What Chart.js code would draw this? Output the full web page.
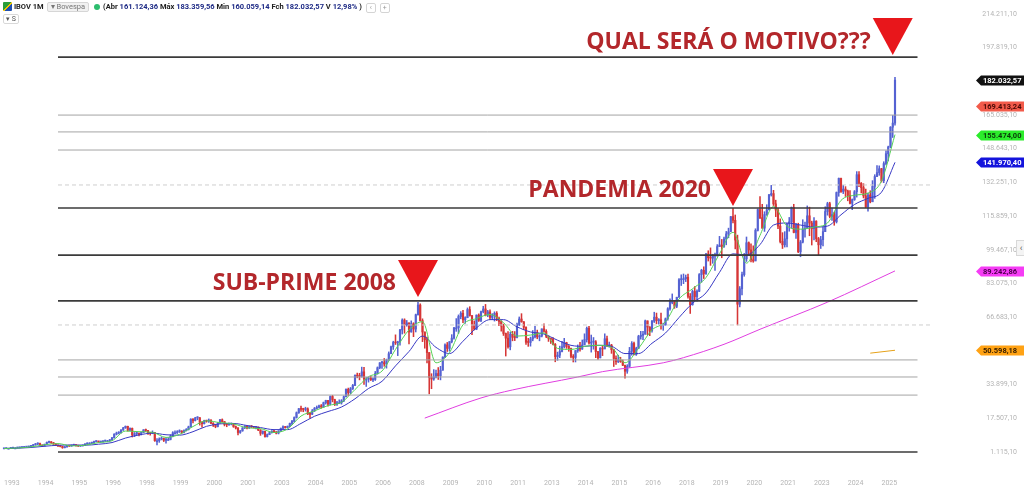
<!DOCTYPE html>
<html>
<head>
<meta charset="utf-8">
<title>IBOV 1M</title>
<script src="https://cdn.jsdelivr.net/npm/chart.js@4.4.1/dist/chart.umd.min.js"></script>
<style>
  html, body { margin: 0; padding: 0; background: #fff; }
  #wrap { position: relative; width: 1024px; height: 488px; overflow: hidden; }
  #ibov { position: absolute; left: 0; top: 0; }
  .hdr { position: absolute; left: 3px; top: 2px; font-family: Roboto, "Liberation Sans", sans-serif; font-size: 7.5px; color: #222; white-space: nowrap; line-height: 10px; }
  .hdr .flag { display: inline-block; width: 9px; height: 9px; vertical-align: -2px; background: linear-gradient(135deg, #2a9d3a 0 45%, #f2c200 45% 60%, #1f4fb0 60%); border-radius: 1px; }
  .hdr b { font-weight: 700; }
  .hdr .badge { display: inline-block; border: 1px solid #d6d6d6; background: #f1f1f1; color: #777; border-radius: 2px; padding: 0 3px; line-height: 8px; margin-left: 3px; }
  .hdr .dot { display: inline-block; width: 6px; height: 6px; border-radius: 50%; background: #2dbd6e; margin: 0 3px 0 5px; vertical-align: -1px; }
  .hdr .n { color: #1d2a85; font-weight: 700; }
  .hdr .btn { display: inline-block; width: 8px; height: 8px; border: 1px solid #d4d4d4; border-radius: 2px; color: #999; font-size: 7px; line-height: 8px; text-align: center; margin-left: 4px; vertical-align: -1px; }
  .hdr2 { position: absolute; left: 3px; top: 14px; font-family: Roboto, sans-serif; font-size: 7px; color: #555; border: 1px solid #d8d8d8; border-radius: 2px; padding: 0 2px; line-height: 8px; }
  .side { position: absolute; left: 1016px; top: 240px; width: 8px; height: 14px; border: 1px solid #d8d8d8; border-right: none; background: #f4f4f4; color: #555; font: 9px Roboto, sans-serif; line-height: 14px; text-align: center; }
</style>
</head>
<body>
<div id="wrap">
  <canvas id="ibov" width="1024" height="488"></canvas>
  <div class="hdr"><span class="flag"></span> <b>IBOV 1M</b><span class="badge">&#9662; Bovespa</span><span class="dot"></span><b>(Abr</b> <span class="n">161.124,36</span> <b>Máx</b> <span class="n">183.359,56</span> <b>Min</b> <span class="n">160.059,14</span> <b>Fch</b> <span class="n">182.032,57</span> <b>V</b> <span class="n">12,98%</span> <b>)</b><span class="btn">&#8249;</span><span class="btn">+</span></div>
  <div class="hdr2">&#9662; S</div>
  <div class="side">&#8249;</div>
</div>
<script>
// IBOV monthly candles, Jan 1993 .. Jan 2026 (values in thousands of points)
var opens = [
  2.7,2.8,2.9,2.9,3.0,3.1,3.1,3.2,3.3,3.4,3.5,3.6,            // 1993
  3.8,4.2,4.6,5.0,5.2,4.4,4.0,4.8,5.8,6.0,5.6,5.0,            // 1994
  4.4,4.0,3.8,3.2,3.6,4.2,4.0,4.4,4.6,4.2,4.0,4.1,            // 1995
  4.3,5.0,5.4,5.4,5.7,6.2,6.3,6.0,6.1,6.4,6.6,6.6,            // 1996
  7.0,8.0,9.8,10.3,10.5,11.8,12.9,13.6,11.7,12.6,9.4,10.0,    // 1997
  10.2,9.6,10.6,11.9,11.6,10.3,10.2,10.6,6.6,6.6,7.4,7.7,     // 1998
  6.8,7.2,7.2,8.7,10.5,10.5,11.0,11.3,10.6,11.5,12.0,13.3,    // 1999
  17.1,16.4,17.7,17.8,15.5,14.9,16.4,16.1,16.7,15.1,14.3,13.5, // 2000
  15.3,16.8,15.9,14.5,14.4,14.7,14.9,13.5,12.8,10.6,11.4,12.8, // 2001
  13.6,12.8,13.5,13.3,13.1,13.2,11.8,10.2,11.2,8.6,9.6,10.5,  // 2002
  11.3,10.9,10.3,11.3,12.6,13.4,13.0,13.6,15.0,16.0,17.9,20.2, // 2003
  22.2,21.9,21.8,22.1,19.6,19.5,21.1,22.3,22.8,23.6,23.0,25.1, // 2004
  26.2,24.4,28.1,26.6,24.4,25.1,25.1,26.0,28.0,31.6,30.0,31.9, // 2005
  33.5,38.4,38.0,37.9,40.1,36.6,36.6,37.1,36.2,36.4,39.3,42.1, // 2006
  44.5,44.6,43.9,45.8,48.9,52.3,54.4,54.2,54.6,60.5,65.3,63.0, // 2007
  63.9,59.5,63.5,60.9,67.9,72.6,65.0,59.5,55.7,49.5,37.3,36.6, // 2008
  37.6,39.3,38.2,40.9,47.3,53.2,51.5,54.8,56.5,61.5,61.5,67.0, // 2009
  68.6,65.4,66.5,70.4,67.5,63.0,60.9,67.7,65.1,69.4,70.7,67.7, // 2010
  69.3,66.6,67.4,68.6,66.1,64.6,62.4,58.8,56.5,52.3,58.4,56.9, // 2011
  56.8,63.1,65.8,64.5,61.8,54.5,54.4,56.1,57.1,59.2,57.1,57.5, // 2012
  61.0,59.8,57.4,56.4,55.9,53.5,47.5,48.2,50.0,52.3,54.3,52.5, // 2013
  51.5,47.6,47.1,50.4,51.6,51.2,53.2,55.8,61.3,54.1,54.6,54.7, // 2014
  50.0,46.9,51.6,51.2,56.2,52.8,53.1,50.9,46.6,45.1,45.9,45.1, // 2015
  43.3,40.4,42.8,50.1,53.9,48.5,51.5,57.3,57.9,58.4,64.9,61.9, // 2016
  60.2,64.7,66.7,65.0,65.4,62.7,62.9,65.9,70.8,74.3,74.3,72.0, // 2017
  76.4,84.9,85.4,85.4,86.1,76.8,72.8,79.2,76.7,79.3,87.4,89.5, // 2018
  87.9,97.4,95.6,95.4,96.4,97.0,101.0,101.8,101.1,104.7,107.2,108.2, // 2019
  115.6,113.8,104.2,73.0,80.5,87.4,95.1,102.9,99.4,94.6,94.0,108.9,  // 2020
  119.0,115.1,110.0,116.6,118.9,126.2,126.8,121.8,118.8,111.0,103.5,101.9, // 2021
  104.8,112.1,113.1,120.0,107.9,111.4,98.5,103.2,109.5,110.0,116.0,112.5,  // 2022
  109.7,113.4,104.9,101.9,104.4,108.3,118.1,121.9,115.7,116.6,113.1,127.3, // 2023
  134.2,127.8,129.0,128.1,125.9,122.1,123.9,127.7,136.0,131.8,129.7,125.7, // 2024
  120.3,126.1,122.8,130.3,135.1,137.0,138.9,133.1,141.4,146.2,149.5,159.1, // 2025
  161.1                                                                     // 2026
];
var highs = [
  2.9,3.0,3.0,3.1,3.2,3.2,3.3,3.4,3.5,3.6,3.7,3.9,
  4.4,4.8,5.3,5.6,5.4,4.6,5.0,6.0,6.4,6.2,5.8,5.2,
  4.6,4.2,3.9,3.8,4.4,4.3,4.6,4.9,4.7,4.3,4.3,4.5,
  5.2,5.6,5.7,5.9,6.4,6.6,6.4,6.3,6.6,6.9,6.8,7.2,
  8.2,10.0,10.8,11.0,12.0,13.1,13.8,13.7,12.9,12.8,10.6,10.7,
  10.4,10.8,12.0,12.3,11.7,10.5,11.4,10.7,7.6,8.0,8.4,7.9,
  8.0,8.0,9.5,11.0,11.4,11.5,11.9,11.5,11.9,12.5,13.7,17.3,
  17.4,18.0,18.3,17.9,15.9,16.6,16.6,17.2,16.8,15.4,14.6,15.4,
  17.0,17.2,16.0,15.0,15.3,15.2,15.0,13.8,13.0,11.6,13.0,13.9,
  13.8,13.8,14.0,13.6,13.5,13.3,12.0,11.4,11.3,9.9,11.0,11.5,
  11.6,11.1,11.5,12.8,13.8,13.6,13.8,15.2,16.5,18.2,20.6,22.3,
  23.4,22.4,22.9,22.6,20.4,21.8,22.8,23.5,23.9,24.2,25.4,26.3,
  26.3,28.4,28.7,26.8,25.8,26.5,26.6,28.4,31.9,32.2,32.5,34.0,
  38.6,39.5,39.4,42.4,42.3,37.4,37.6,38.0,37.2,40.3,42.5,44.6,
  45.2,46.6,46.3,49.8,52.6,55.0,58.1,55.0,60.8,65.9,65.9,65.1,
  64.0,64.9,64.0,68.2,73.9,73.2,65.9,59.5,57.0,49.5,39.2,41.2,
  41.0,42.2,42.8,47.4,53.7,54.4,54.8,58.2,61.7,66.0,67.8,69.4,
  70.0,66.9,71.2,71.8,67.5,64.9,67.8,68.3,69.7,72.0,72.9,70.0,
  70.3,68.4,69.3,69.4,66.7,65.0,63.3,59.0,59.7,59.4,59.8,59.7,
  63.8,66.8,68.4,64.5,62.0,56.4,57.0,60.2,62.2,60.4,58.2,61.0,
  63.5,60.6,57.6,56.6,56.8,53.9,49.7,52.6,54.9,56.4,54.5,52.9,
  51.7,48.5,50.5,53.2,54.4,55.6,58.6,61.9,62.3,58.0,56.8,55.3,
  50.0,51.9,52.7,58.6,57.5,54.6,53.5,51.0,47.9,48.2,47.2,45.9,
  43.4,43.6,52.0,54.8,54.6,52.1,57.9,59.8,59.8,65.3,64.9,62.1,
  65.2,69.1,68.7,66.0,68.7,63.8,66.3,71.3,75.6,78.0,74.3,76.4,
  85.5,87.3,87.7,87.2,87.7,78.2,79.9,81.6,80.0,87.9,90.0,91.2,
  97.7,99.0,100.4,97.3,97.9,102.0,106.0,104.5,105.6,108.4,110.0,115.7,
  119.6,116.4,106.6,81.6,88.6,97.7,105.7,103.3,102.4,101.4,109.7,119.4,
  125.3,121.6,118.0,121.4,126.4,130.8,128.4,123.6,119.6,114.5,107.8,108.3,
  112.4,115.2,120.3,121.6,112.4,112.4,104.0,114.1,113.0,120.8,120.2,113.4,
  115.1,113.6,105.5,106.0,110.6,120.4,122.6,122.6,119.8,117.8,127.6,134.4,
  134.4,130.8,130.2,128.5,128.3,124.2,128.3,137.5,137.5,132.2,131.6,129.0,
  127.1,128.2,133.1,136.0,140.4,140.3,139.1,142.3,147.6,149.9,159.4,164.8,
  183.4
];
var lows = [
  2.6,2.7,2.8,2.8,2.9,3.0,3.0,3.1,3.2,3.3,3.4,3.5,
  3.6,4.0,4.4,4.7,4.2,3.7,3.9,4.6,5.5,5.3,4.8,4.2,
  3.8,3.6,2.9,3.1,3.5,3.8,3.9,4.3,4.0,3.8,3.8,4.0,
  4.2,4.8,5.1,5.2,5.6,6.0,5.8,5.8,5.9,6.2,6.3,6.5,
  6.9,7.9,9.4,9.9,10.3,11.6,12.6,11.3,11.5,8.4,8.6,9.5,
  8.9,9.4,10.5,11.1,9.7,9.3,10.0,6.3,4.6,5.8,7.0,6.2,
  5.4,6.8,7.0,8.5,10.0,10.1,10.6,10.2,10.4,11.3,11.8,13.2,
  15.3,16.2,16.8,14.2,13.2,14.7,15.6,15.5,14.9,13.5,12.9,13.3,
  15.0,15.6,13.8,13.4,14.0,14.3,13.1,12.3,9.4,10.2,11.2,12.5,
  12.4,12.6,13.0,12.8,12.4,11.5,9.2,9.8,8.3,8.4,9.5,10.3,
  10.5,9.9,9.9,11.1,12.3,12.7,12.7,13.4,14.4,15.6,17.6,19.9,
  20.9,20.7,21.0,19.3,17.6,19.3,20.8,22.0,22.6,22.4,22.8,24.4,
  23.4,24.0,25.5,23.7,23.8,24.7,24.4,25.6,27.9,28.4,29.5,31.5,
  33.4,37.2,36.2,37.5,34.0,33.0,35.1,35.9,35.3,35.9,39.0,41.6,
  41.8,42.8,41.9,45.7,48.9,51.0,53.4,48.0,53.1,58.5,58.9,62.3,
  53.7,59.4,57.2,59.5,67.7,64.8,54.8,51.6,44.4,29.4,31.9,36.0,
  37.1,36.4,36.2,40.9,47.0,50.0,50.2,54.2,56.0,59.8,58.8,65.9,
  64.0,63.7,66.4,67.2,58.2,60.5,60.6,64.6,64.5,68.8,67.3,66.9,
  65.6,65.5,64.8,65.0,62.6,59.9,57.8,47.8,51.6,50.8,55.2,55.3,
  56.6,62.6,64.2,60.6,53.4,52.5,52.6,55.2,56.6,56.2,55.2,57.1,
  59.4,56.7,54.9,53.9,53.2,45.0,45.7,47.0,49.8,51.7,51.5,50.1,
  46.9,44.9,44.9,49.6,50.2,51.0,53.4,54.6,53.6,49.7,51.1,47.0,
  46.1,46.9,48.0,51.4,52.4,52.1,49.1,42.7,43.7,44.6,44.7,43.1,
  37.0,39.4,42.2,48.2,48.3,48.1,51.5,56.0,55.8,58.4,58.1,57.7,
  59.4,64.1,63.5,63.3,60.8,60.3,62.8,65.2,70.1,73.2,71.0,71.3,
  76.4,82.1,83.0,84.0,76.0,68.5,72.5,75.0,74.5,79.1,83.7,85.5,
  87.5,94.0,91.9,92.9,89.4,96.3,101.0,95.6,100.6,101.9,105.3,108.7,
  112.5,99.9,62.9,71.7,77.5,86.6,93.8,97.0,93.6,93.4,94.3,108.6,
  114.6,109.9,108.4,116.2,118.9,125.6,121.0,115.6,109.8,102.8,100.1,100.8,
  100.9,108.5,110.0,107.7,105.0,98.1,96.1,102.8,105.6,110.0,106.3,101.8,
  104.3,103.4,97.0,100.1,101.3,108.3,116.3,115.0,113.8,111.4,112.5,125.5,
  127.4,126.8,125.4,123.3,121.8,119.0,123.5,125.1,130.2,127.1,124.7,120.0,
  118.2,122.3,122.9,124.5,135.0,135.7,132.4,132.1,140.7,142.7,149.1,154.1,
  160.1
];
var closes = [
  2.8,2.9,2.9,3.0,3.1,3.1,3.2,3.3,3.4,3.5,3.6,3.8,
  4.2,4.6,5.0,5.2,4.4,4.0,4.8,5.8,6.0,5.6,5.0,4.4,
  4.0,3.8,3.2,3.6,4.2,4.0,4.4,4.6,4.2,4.0,4.1,4.3,
  5.0,5.4,5.4,5.7,6.2,6.3,6.0,6.1,6.4,6.6,6.6,7.0,
  8.0,9.8,10.3,10.5,11.8,12.9,13.6,11.7,12.6,9.4,10.0,10.2,
  9.6,10.6,11.9,11.6,10.3,10.2,10.6,6.6,6.6,7.4,7.7,6.8,
  7.2,7.2,8.7,10.5,10.5,11.0,11.3,10.6,11.5,12.0,13.3,17.1,
  16.4,17.7,17.8,15.5,14.9,16.4,16.1,16.7,15.1,14.3,13.5,15.3,
  16.8,15.9,14.5,14.4,14.7,14.9,13.5,12.8,10.6,11.4,12.8,13.6,
  12.8,13.5,13.3,13.1,13.2,11.8,10.2,11.2,8.6,9.6,10.5,11.3,
  10.9,10.3,11.3,12.6,13.4,13.0,13.6,15.0,16.0,17.9,20.2,22.2,
  21.9,21.8,22.1,19.6,19.5,21.1,22.3,22.8,23.6,23.0,25.1,26.2,
  24.4,28.1,26.6,24.4,25.1,25.1,26.0,28.0,31.6,30.0,31.9,33.5,
  38.4,38.0,37.9,40.1,36.6,36.6,37.1,36.2,36.4,39.3,42.1,44.5,
  44.6,43.9,45.8,48.9,52.3,54.4,54.2,54.6,60.5,65.3,63.0,63.9,
  59.5,63.5,60.9,67.9,72.6,65.0,59.5,55.7,49.5,37.3,36.6,37.6,
  39.3,38.2,40.9,47.3,53.2,51.5,54.8,56.5,61.5,61.5,67.0,68.6,
  65.4,66.5,70.4,67.5,63.0,60.9,67.7,65.1,69.4,70.7,67.7,69.3,
  66.6,67.4,68.6,66.1,64.6,62.4,58.8,56.5,52.3,58.4,56.9,56.8,
  63.1,65.8,64.5,61.8,54.5,54.4,56.1,57.1,59.2,57.1,57.5,61.0,
  59.8,57.4,56.4,55.9,53.5,47.5,48.2,50.0,52.3,54.3,52.5,51.5,
  47.6,47.1,50.4,51.6,51.2,53.2,55.8,61.3,54.1,54.6,54.7,50.0,
  46.9,51.6,51.2,56.2,52.8,53.1,50.9,46.6,45.1,45.9,45.1,43.3,
  40.4,42.8,50.1,53.9,48.5,51.5,57.3,57.9,58.4,64.9,61.9,60.2,
  64.7,66.7,65.0,65.4,62.7,62.9,65.9,70.8,74.3,74.3,72.0,76.4,
  84.9,85.4,85.4,86.1,76.8,72.8,79.2,76.7,79.3,87.4,89.5,87.9,
  97.4,95.6,95.4,96.4,97.0,101.0,101.8,101.1,104.7,107.2,108.2,115.6,
  113.8,104.2,73.0,80.5,87.4,95.1,102.9,99.4,94.6,94.0,108.9,119.0,
  115.1,110.0,116.6,118.9,126.2,126.8,121.8,118.8,111.0,103.5,101.9,104.8,
  112.1,113.1,120.0,107.9,111.4,98.5,103.2,109.5,110.0,116.0,112.5,109.7,
  113.4,104.9,101.9,104.4,108.3,118.1,121.9,115.7,116.6,113.1,127.3,134.2,
  127.8,129.0,128.1,125.9,122.1,123.9,127.7,136.0,131.8,129.7,125.7,120.3,
  126.1,122.8,130.3,135.1,137.0,138.9,133.1,141.4,146.2,149.5,159.1,161.1,
  182.0
];

// moving averages, one value every 6 months (Jan / Jul)
var maFast = [
  2.8,3.05, 3.6,4.6, 5.2,4.1, 4.4,5.7, 6.6,11.3, 11.0,10.7, 8.2,9.7, 13.5,16.3,
  15.4,14.8, 12.9,12.5, 10.6,12.3, 18.6,21.1, 23.7,25.3, 31.5,37.7, 40.5,51.0,
  60.5,64.5, 44.5,49.5, 63.0,66.0, 68.0,64.0, 57.5,58.0, 59.0,51.5, 51.0,52.5,
  53.0,52.0, 44.5,51.5, 60.5,64.5, 75.5,80.5, 86.0,97.5, 108.0,93.0, 106.5,120.5,
  111.0,109.5, 110.5,112.5, 123.5,126.0, 127.0,133.0, 155.5
];
var maSlow = [
  2.8,2.95, 3.3,3.9, 4.4,4.5, 4.4,4.9, 5.7,7.9, 9.4,10.3, 9.5,9.3, 11.0,13.6,
  14.8,15.0, 14.0,13.0, 12.0,12.0, 15.0,18.5, 20.8,23.0, 27.0,32.0, 35.5,43.0,
  50.0,57.5, 52.0,49.0, 55.0,61.5, 65.5,65.5, 62.0,59.5, 58.5,55.5, 53.0,52.5,
  53.0,52.5, 49.0,49.0, 54.0,59.0, 66.5,73.5, 78.5,88.5, 97.5,97.0, 102.0,111.5,
  112.5,111.5, 110.5,111.0, 116.5,121.5, 124.5,127.5, 142.0
];
var maLongMonths = [187, 212, 226, 255, 266, 293, 302, 320, 336, 366, 396];
var maLong = [17.6, 27.4, 31.3, 37.6, 40.2, 44.5, 47.0, 53.5, 60.8, 74.0, 89.2];
var maLongestMonths = [385, 396];
var maLongest = [49.2, 50.6];

// horizontal levels (thousands)
var solidLevels = [193.2, 119.8, 96.9, 74.6, 1.115];
var thinLevels = [165.0, 156.8, 148.0, 45.9, 37.6, 28.8];
var dashedLevels = [131.0, 62.9];

// axis ticks
var yTicks = [1115.10, 17507.10, 33899.10, 50291.10, 66683.10, 83075.10, 99467.10,
  115859.10, 132251.10, 148643.10, 165035.10, 181427.10, 197819.10, 214211.10];
var xTickMonths = [0, 15, 30, 45, 60, 75, 90, 105, 120, 135, 150, 165, 180, 195,
  210, 225, 240, 255, 270, 285, 300, 315, 330, 345, 360, 375, 390];
var xTickLabels = ['1993', '1994', '1995', '1996', '1998', '1999', '2000', '2001', '2003',
  '2004', '2005', '2006', '2008', '2009', '2010', '2011', '2013', '2014', '2015', '2016',
  '2018', '2019', '2020', '2021', '2023', '2024', '2025'];

// value tags on the right axis
var tagValues = [182032.57, 169413.24, 155474.00, 141970.40, 89242.86, 50598.18];
var tagLabels = ['182.032,57', '169.413,24', '155.474,00', '141.970,40', '89.242,86', '50.598,18'];
var tagFill = ['#111111', '#f25a4a', '#2bec2b', '#1414dc', '#f53cf5', '#ffa214'];
var tagInk = ['#ffffff', '#4a0a06', '#0a3a0a', '#ffffff', '#4a004a', '#3a2000'];

// callouts: month of the marker tip, value of the tip, text
var calloutMonths = [184, 324, 395];
var calloutValues = [76.5, 120.8, 194.2];
var calloutTexts = ['SUB-PRIME 2008', 'PANDEMIA 2020', 'QUAL SERÁ O MOTIVO???'];
var calloutLift = [7, 9, 6];

var UP = '#5562d2';
var DOWN = '#d63636';

function fmtBR(v) {
  var s = v.toFixed(2).split('.');
  return s[0].replace(/\B(?=(\d{3})+(?!\d))/g, '.') + ',' + s[1];
}

function levelLine(v, x0, x1) {
  return [{ x: x0, y: v * 1000 }, { x: x1, y: v * 1000 }];
}

var candleColors = closes.map(function (c, i) { return c >= opens[i] ? UP : DOWN; });
var wickData = highs.map(function (h, i) { return { x: i, y: [lows[i] * 1000, h * 1000] }; });
var bodyData = closes.map(function (c, i) { return { x: i, y: [opens[i] * 1000, c * 1000] }; });

var datasets = [];

solidLevels.forEach(function (v) {
  datasets.push({ type: 'line', data: levelLine(v, 24, 406), borderColor: '#3b3b3b', borderWidth: 1.6, pointRadius: 0, order: 0 });
});
thinLevels.forEach(function (v) {
  datasets.push({ type: 'line', data: levelLine(v, 24, 406), borderColor: '#a4a4a4', borderWidth: 1, pointRadius: 0, order: 0 });
});
dashedLevels.forEach(function (v) {
  datasets.push({ type: 'line', data: levelLine(v, 24, 412), borderColor: '#cfcfcf', borderWidth: 1, borderDash: [4, 3], pointRadius: 0, order: 0 });
});

datasets.push({ type: 'line', data: maFast.map(function (v, i) { return { x: i * 6, y: v * 1000 }; }),
  borderColor: '#55d155', borderWidth: 1, pointRadius: 0, cubicInterpolationMode: 'monotone', order: 1 });
datasets.push({ type: 'line', data: maSlow.map(function (v, i) { return { x: i * 6, y: v * 1000 }; }),
  borderColor: '#3838c4', borderWidth: 1, pointRadius: 0, cubicInterpolationMode: 'monotone', order: 1 });
datasets.push({ type: 'line', data: maLong.map(function (v, i) { return { x: maLongMonths[i], y: v * 1000 }; }),
  borderColor: '#e03ee0', borderWidth: 1, pointRadius: 0, cubicInterpolationMode: 'monotone', order: 1 });
datasets.push({ type: 'line', data: maLongest.map(function (v, i) { return { x: maLongestMonths[i], y: v * 1000 }; }),
  borderColor: '#e6a21a', borderWidth: 1, pointRadius: 0, order: 1 });

datasets.push({ type: 'bar', data: bodyData, backgroundColor: candleColors, barThickness: 1.5, minBarLength: 1, grouped: false, order: 2 });
datasets.push({ type: 'bar', data: wickData, backgroundColor: candleColors, barThickness: 0.9, grouped: false, order: 3 });

var overlay = {
  id: 'overlay',
  afterDatasetsDraw: function (chart) {
    var ctx = chart.ctx, xs = chart.scales.x, ys = chart.scales.y;
    ctx.save();
    calloutTexts.forEach(function (t, i) {
      var px = xs.getPixelForValue(calloutMonths[i]);
      var py = ys.getPixelForValue(calloutValues[i] * 1000);
      ctx.fillStyle = '#e8161b';
      ctx.beginPath();
      ctx.moveTo(px, py);
      ctx.lineTo(px - 20, py - 37);
      ctx.lineTo(px + 20, py - 37);
      ctx.closePath();
      ctx.fill();
      ctx.font = 'bold 23px "Open Sans"';
      ctx.fillStyle = '#b3272b';
      ctx.textAlign = 'right';
      ctx.textBaseline = 'alphabetic';
      ctx.fillText(t, px - 22, py - calloutLift[i]);
    });
    ctx.restore();
  },
  afterDraw: function (chart) {
    var ctx = chart.ctx, ys = chart.scales.y;
    ctx.save();
    tagValues.forEach(function (v, i) {
      var py = Math.round(ys.getPixelForValue(v)) + 0.5;
      ctx.fillStyle = tagFill[i];
      ctx.beginPath();
      ctx.moveTo(976, py);
      ctx.lineTo(981, py - 5);
      ctx.lineTo(1024, py - 5);
      ctx.lineTo(1024, py + 5);
      ctx.lineTo(981, py + 5);
      ctx.closePath();
      ctx.fill();
      ctx.fillStyle = tagInk[i];
      ctx.font = 'bold 7.5px Roboto';
      ctx.textAlign = 'left';
      ctx.textBaseline = 'middle';
      ctx.fillText(tagLabels[i], 983, py + 0.5);
    });
    ctx.restore();
  }
};

new Chart(document.getElementById('ibov'), {
  type: 'bar',
  data: { datasets: datasets },
  options: {
    responsive: false,
    animation: false,
    events: [],
    layout: { padding: { left: 0, right: 7, top: 0, bottom: 0 } },
    plugins: { legend: { display: false }, tooltip: { enabled: false } },
    scales: {
      x: {
        type: 'linear',
        min: -1.7778,
        max: 418.222,
        offset: false,
        grid: { display: false, drawTicks: false },
        border: { display: false },
        ticks: {
          autoSkip: false, maxRotation: 0, align: 'start', padding: 5,
          color: '#b4b4b4', font: { size: 7, family: 'Roboto' },
          callback: function (v, i) { return xTickLabels[i]; }
        },
        afterBuildTicks: function (s) { s.ticks = xTickMonths.map(function (m) { return { value: m }; }); },
        afterFit: function (s) { s.height = 14; s.paddingLeft = 0; s.paddingRight = 0; }
      },
      y: {
        type: 'linear',
        position: 'right',
        min: -9586,
        max: 220972,
        grid: { display: false, drawTicks: false },
        border: { display: false },
        ticks: {
          crossAlign: 'far', color: '#b4b4b4', font: { size: 7, family: 'Roboto' },
          callback: function (v) { return fmtBR(v); }
        },
        afterBuildTicks: function (s) { s.ticks = yTicks.map(function (v) { return { value: v }; }); },
        afterFit: function (s) { s.width = 72; s.paddingTop = 0; s.paddingBottom = 0; }
      }
    }
  },
  plugins: [overlay]
});
</script>
</body>
</html>
